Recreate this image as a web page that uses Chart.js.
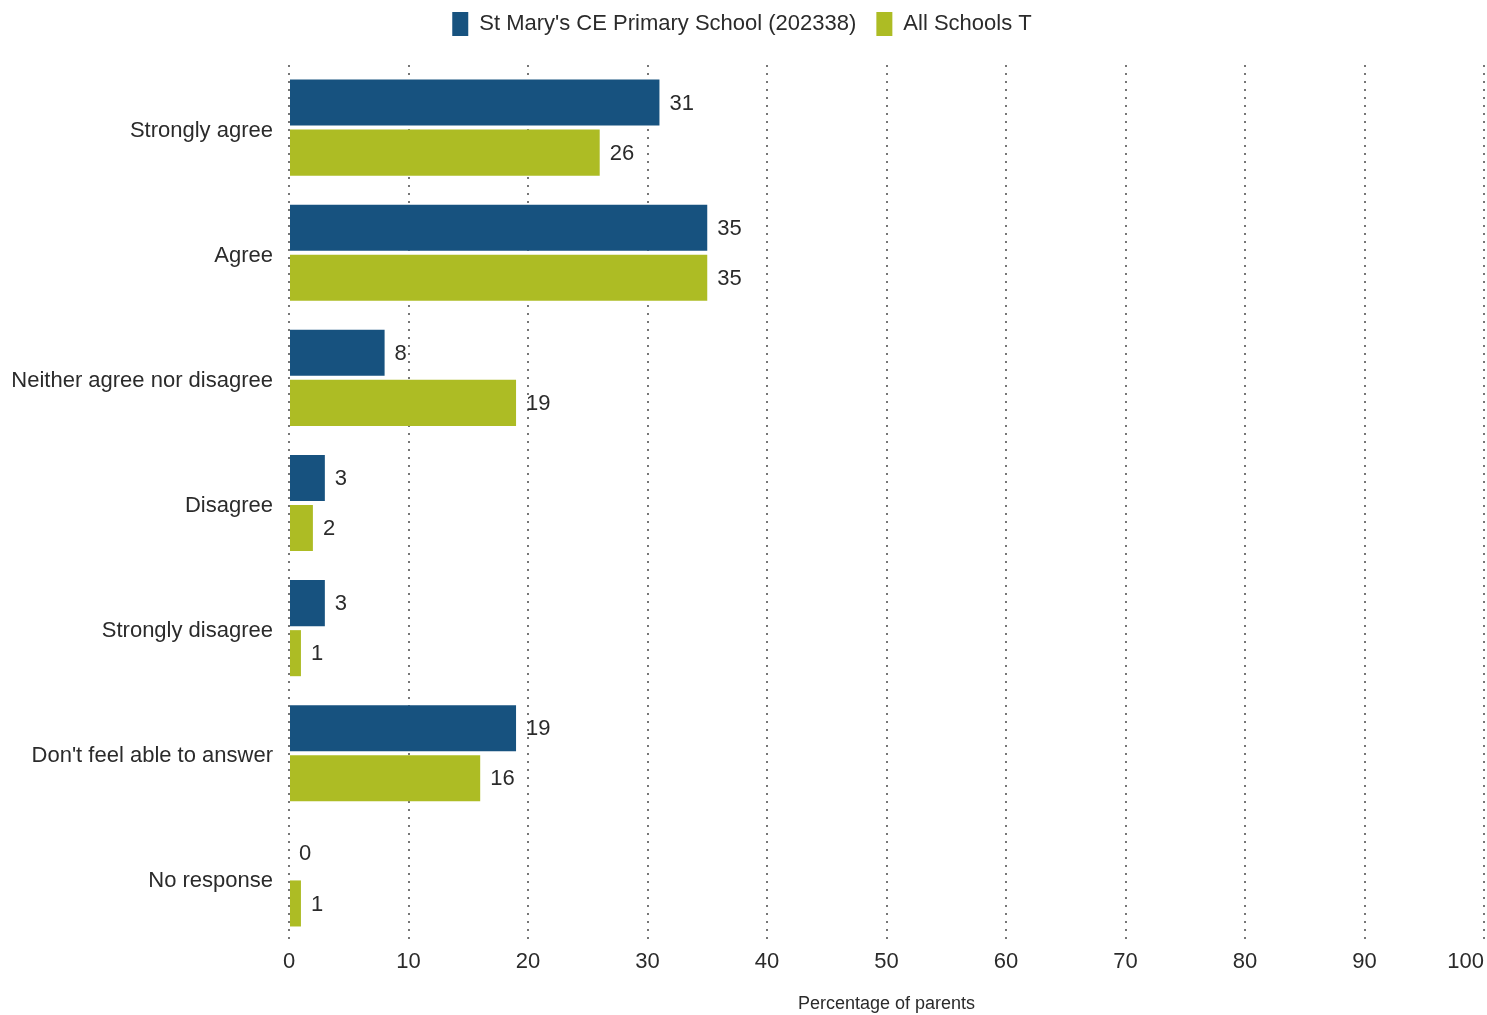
<!DOCTYPE html>
<html>
<head>
<meta charset="utf-8">
<title>Percentage of parents</title>
<script src="https://cdn.jsdelivr.net/npm/chart.js@4/dist/chart.umd.min.js"></script>
<style>
  html, body { margin: 0; padding: 0; background: #fff; }
  #wrap { width: 1487px; height: 1015px; }
</style>
</head>
<body>
<div id="wrap"><canvas id="chart" width="1487" height="1015"></canvas></div>
<script>
// categories + series (percent of parents)
const categories = [
  'Strongly agree',
  'Agree',
  'Neither agree nor disagree',
  'Disagree',
  'Strongly disagree',
  "Don't feel able to answer",
  'No response',
];
const schoolLabel = "St Mary's CE Primary School (202338)";
const allLabel = 'All Schools T';
const schoolValues = [31, 35, 8, 3, 3, 19, 0];
const allValues = [26, 35, 19, 2, 1, 16, 1];
const xTicks = [0, 10, 20, 30, 40, 50, 60, 70, 80, 90, 100];

const FONT = "'Liberation Sans', Arial, sans-serif";
const TEXT = '#2b2b2b';

// value labels to the right of each bar
const valueLabels = {
  id: 'valueLabels',
  afterInit(chart) {
    // leave more room under the legend
    const lg = chart.legend;
    if (!lg) return;
    const fit = lg.fit;
    lg.fit = function() { fit.call(this); this.height += 19; };
  },
  afterDatasetsDraw(chart) {
    const ctx = chart.ctx;
    ctx.save();
    ctx.font = '22px ' + FONT;
    ctx.fillStyle = TEXT;
    ctx.textAlign = 'left';
    ctx.textBaseline = 'middle';
    chart.data.datasets.forEach((ds, i) => {
      const meta = chart.getDatasetMeta(i);
      meta.data.forEach((bar, j) => {
        ctx.fillText(String(ds.data[j]), bar.x + 10, bar.y + 1);
      });
    });
    ctx.restore();
  },
};

new Chart(document.getElementById('chart'), {
  type: 'bar',
  data: {
    labels: categories,
    datasets: [
      { label: schoolLabel, data: schoolValues, backgroundColor: '#17527f' },
      { label: allLabel, data: allValues, backgroundColor: '#adbc24' },
    ],
  },
  options: {
    indexAxis: 'y',
    responsive: false,
    animation: false,
    devicePixelRatio: 1,
    categoryPercentage: 0.8,
    barPercentage: 0.92,
    layout: { padding: { top: -8, right: 3, bottom: 0, left: 0 } },
    plugins: {
      tooltip: { enabled: false },
      legend: {
        position: 'top',
        labels: {
          font: { family: FONT, size: 22 },
          color: TEXT,
          boxWidth: 16,
          boxHeight: 24,
          padding: 20,
        },
      },
    },
    scales: {
      x: {
        min: 0,
        max: 100,
        afterBuildTicks(scale) { scale.ticks = xTicks.map(v => ({ value: v })); },
        afterFit(scale) { scale.paddingRight = 0; },
        ticks: {
          font: { family: FONT, size: 22 },
          color: TEXT,
          padding: 8,
          maxRotation: 0,
          autoSkip: false,
          // last label sits inside the plot edge
          callback: v => v === 100 ? '100      ' : String(v),
        },
        grid: {
          color: '#777',
          lineWidth: 2,
          drawTicks: false,
          borderDash: [2, 6],
        },
        border: { display: false, dash: [2, 6] },
        title: {
          display: true,
          text: 'Percentage of parents',
          font: { family: FONT, size: 18 },
          color: TEXT,
          padding: { top: 10, bottom: 0 },
        },
      },
      y: {
        afterFit(scale) { scale.width = 289; },
        ticks: {
          font: { family: FONT, size: 22 },
          color: TEXT,
          padding: 8,
          labelOffset: 3,
        },
        grid: { display: false },
        border: { display: false },
      },
    },
  },
  plugins: [valueLabels],
});
</script>
</body>
</html>
